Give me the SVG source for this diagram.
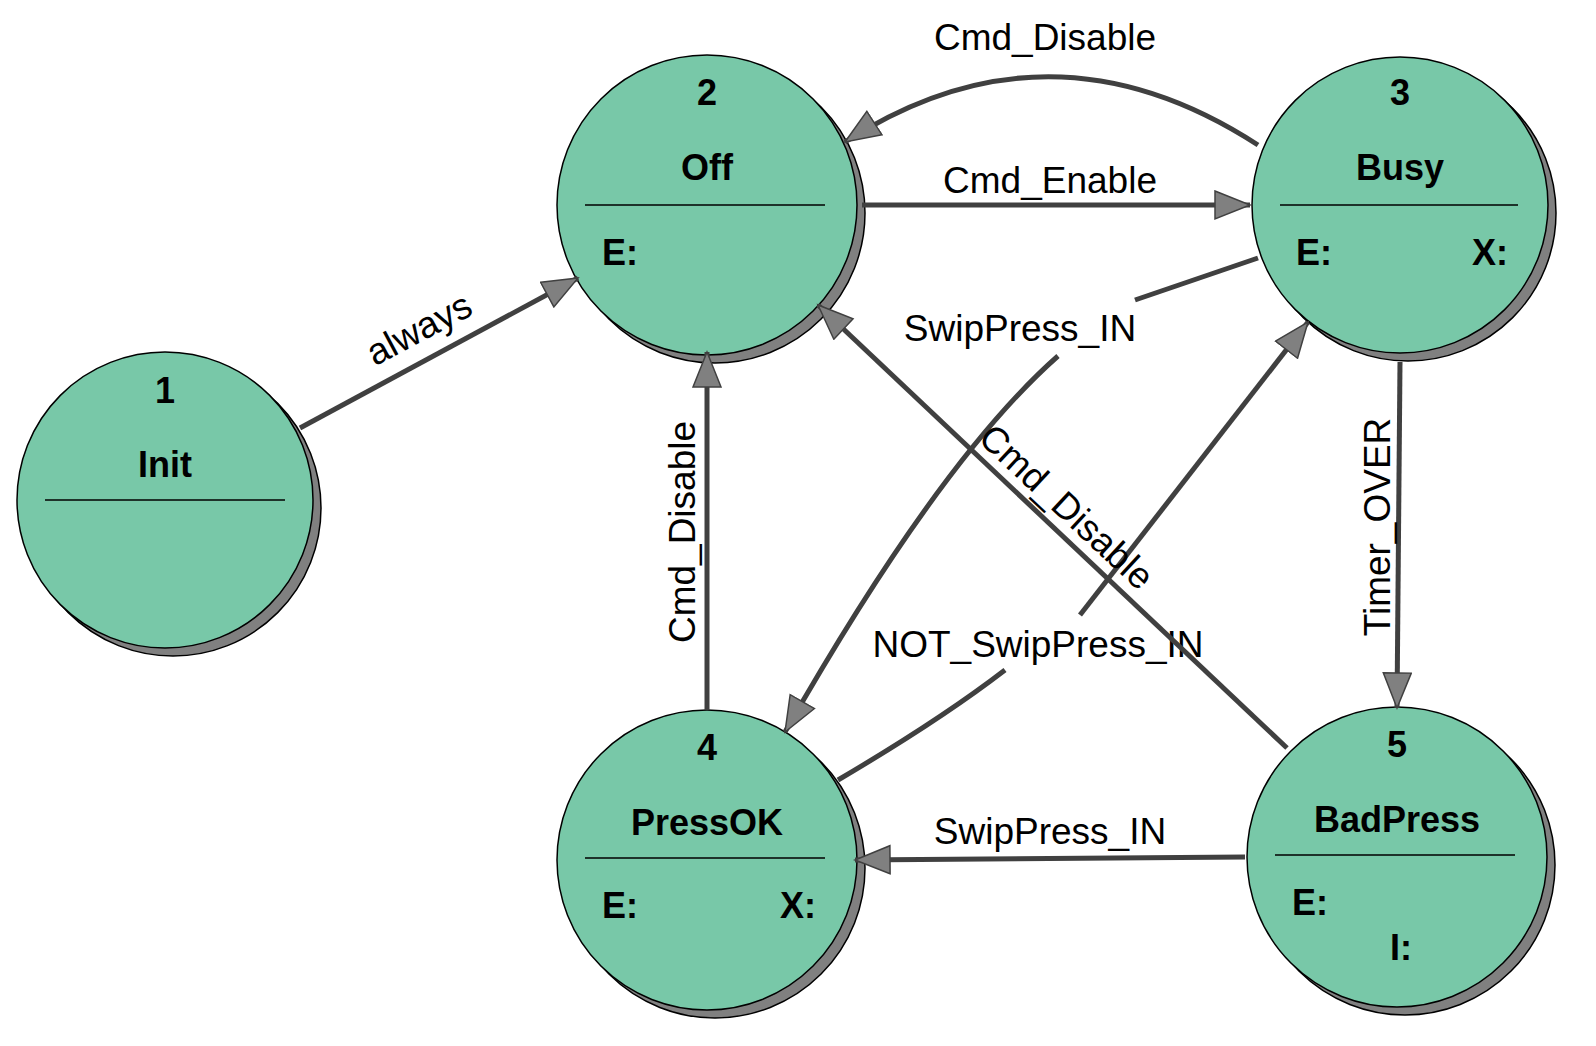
<svg xmlns="http://www.w3.org/2000/svg" width="1596" height="1046" viewBox="0 0 1596 1046">
<style>
.sh{fill:#808080;stroke:#000;stroke-width:1.5}
.st{fill:#78C8A8;stroke:#000;stroke-width:1.5}
.dv{stroke:#000;stroke-width:1.5}
.t{font-family:"Liberation Sans",Arial,sans-serif;font-weight:bold;font-size:36px;fill:#000}
.c{text-anchor:middle}
.e{fill:none;stroke:#404040;stroke-width:5}
.l{font-family:"Liberation Sans",Arial,sans-serif;font-size:37px;fill:#000}
</style>
<defs>
<marker id="ah" markerUnits="userSpaceOnUse" markerWidth="40" markerHeight="32" refX="36" refY="15" orient="auto">
<path d="M1,1 L36,15 L1,29 Z" fill="#808080" stroke="#404040" stroke-width="1.5"/>
</marker>
</defs>
<g id="n1"><circle class="sh" cx="173" cy="508" r="148"/><circle class="st" cx="165" cy="500" r="148"/><text class="t c" x="165" y="403">1</text><text class="t c" x="165" y="477">Init</text><line class="dv" x1="45" y1="500" x2="285" y2="500"/></g>
<g id="n2"><circle class="sh" cx="715" cy="213" r="150"/><circle class="st" cx="707" cy="205" r="150"/><text class="t c" x="707" y="105">2</text><text class="t c" x="707" y="180">Off</text><line class="dv" x1="585" y1="205" x2="825" y2="205"/><text class="t" x="602" y="265">E:</text></g>
<g id="n3"><circle class="sh" cx="1408" cy="213" r="148"/><circle class="st" cx="1400" cy="205" r="148"/><text class="t c" x="1400" y="105">3</text><text class="t c" x="1400" y="180">Busy</text><line class="dv" x1="1280" y1="205" x2="1518" y2="205"/><text class="t" x="1296" y="265">E:</text><text class="t" x="1472" y="265">X:</text></g>
<g id="n4"><circle class="sh" cx="715" cy="868" r="150"/><circle class="st" cx="707" cy="860" r="150"/><text class="t c" x="707" y="760">4</text><text class="t c" x="707" y="835">PressOK</text><line class="dv" x1="585" y1="858" x2="825" y2="858"/><text class="t" x="602" y="918">E:</text><text class="t" x="780" y="918">X:</text></g>
<g id="n5"><circle class="sh" cx="1405" cy="865" r="150"/><circle class="st" cx="1397" cy="857" r="150"/><text class="t c" x="1397" y="757">5</text><text class="t c" x="1397" y="832">BadPress</text><line class="dv" x1="1275" y1="855" x2="1515" y2="855"/><text class="t" x="1292" y="915">E:</text><text class="t" x="1390" y="960">I:</text></g>
<g id="edges">
<path class="e" d="M300,428 L578,278" marker-end="url(#ah)"/>
<text class="l c" transform="translate(425,340) rotate(-28)">always</text>
<path class="e" d="M862,205 L1250,205" marker-end="url(#ah)"/>
<text class="l c" x="1050" y="193">Cmd_Enable</text>
<path class="e" d="M1258,145 Q1050,10 845,142" marker-end="url(#ah)"/>
<text class="l c" x="1045" y="50">Cmd_Disable</text>
<path class="e" d="M1258,258 L1135,300"/>
<path class="e" d="M1058,356 Q940,460 785,732" marker-end="url(#ah)"/>
<text class="l c" x="1020" y="341">SwipPress_IN</text>
<path class="e" d="M838,780 Q940,720 1005,670"/>
<path class="e" d="M1080,615 L1308,322" marker-end="url(#ah)"/>
<text class="l c" x="1038" y="657">NOT_SwipPress_IN</text>
<path class="e" d="M1287,748 L818,305" marker-end="url(#ah)"/>
<text class="l c" transform="translate(1058,516) rotate(43)">Cmd_Disable</text>
<path class="e" d="M707,710 L707,352" marker-end="url(#ah)"/>
<text class="l c" transform="translate(695,532) rotate(-90)">Cmd_Disable</text>
<path class="e" d="M1400,362 L1397,708" marker-end="url(#ah)"/>
<text class="l c" transform="translate(1390,527) rotate(-90)">Timer_OVER</text>
<path class="e" d="M1245,857 L855,860" marker-end="url(#ah)"/>
<text class="l c" x="1050" y="844">SwipPress_IN</text>
</g>
</svg>
